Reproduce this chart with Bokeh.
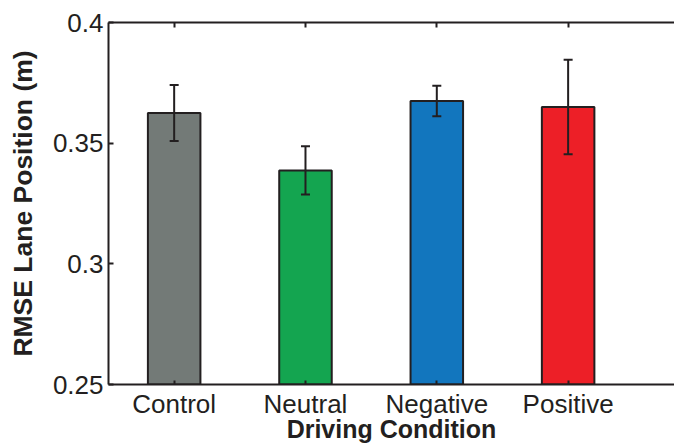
from bokeh.plotting import figure
from bokeh.models import (ColumnDataSource, FixedTicker, LinearAxis, Range1d,
                          Whisker, TeeHead)
from bokeh.embed import file_html
from bokeh.resources import INLINE

# Mean RMSE of lane position per driving condition, with standard error
conditions = ["Control", "Neutral", "Negative", "Positive"]
rmse = [0.3625, 0.3387, 0.3675, 0.3650]
sem = [0.0116, 0.0100, 0.0063, 0.0196]
colors = ["#737a77", "#14a550", "#1276be", "#ed1f27"]
y_ticks = [0.25, 0.3, 0.35, 0.4]
y_tick_labels = ["0.25", "0.3", "0.35", "0.4"]

xs = list(range(1, len(conditions) + 1))
src = ColumnDataSource(dict(
    x=xs, top=rmse, color=colors,
    upper=[m + e for m, e in zip(rmse, sem)],
    lower=[m - e for m, e in zip(rmse, sem)],
))

INK = "#231f20"
FONT = "Liberation Sans"

p = figure(width=674, height=446, output_backend="svg", toolbar_location=None,
           x_range=Range1d(0.5, 4.81), y_range=Range1d(0.25, 0.4),
           min_border_left=108, min_border_right=0, min_border_top=22,
           min_border_bottom=62, x_axis_location="below")
p.outline_line_color = None
p.grid.visible = False
p.background_fill_color = "white"
p.border_fill_color = "white"

p.vbar(x="x", top="top", bottom=0.25, width=0.4, source=src,
       fill_color="color", line_color=INK, line_width=2)

whisk = Whisker(base="x", upper="upper", lower="lower", source=src,
                line_color=INK, line_width=2, level="overlay",
                upper_head=TeeHead(size=9, line_color=INK, line_width=2),
                lower_head=TeeHead(size=9, line_color=INK, line_width=2))
p.add_layout(whisk)

# Bottom axis with condition names
xa = p.xaxis[0]
xa.ticker = FixedTicker(ticks=xs)
xa.major_label_overrides = {i: c for i, c in zip(xs, conditions)}
xa.axis_label = "Driving Condition"
xa.major_label_text_font = FONT
xa.major_label_text_font_size = "26px"
xa.major_label_text_color = INK
xa.axis_label_text_font = FONT
xa.axis_label_text_font_size = "25px"
xa.axis_label_text_font_style = "bold"
xa.axis_label_text_color = INK
xa.axis_label_standoff = -7
xa.major_label_standoff = 4
xa.axis_line_width = 2
xa.axis_line_color = INK
xa.major_tick_in = 4
xa.major_tick_out = 0
xa.major_tick_line_width = 2
xa.major_tick_line_color = INK
xa.minor_tick_line_color = None

# Top border with inward ticks and no labels
ta = LinearAxis(ticker=FixedTicker(ticks=xs), major_label_text_color=None,
                major_label_text_font_size="1px",
                major_label_standoff=0, axis_line_width=2, axis_line_color=INK,
                major_tick_in=5, major_tick_out=0, major_tick_line_width=2,
                major_tick_line_color=INK, minor_tick_line_color=None)
p.add_layout(ta, "above")

ya = p.yaxis[0]
ya.ticker = FixedTicker(ticks=y_ticks)
ya.major_label_overrides = {t: l for t, l in zip(y_ticks, y_tick_labels)}
ya.axis_label = "RMSE Lane Position (m)"
ya.major_label_text_font = FONT
ya.major_label_text_font_size = "26px"
ya.major_label_text_color = INK
ya.axis_label_text_font = FONT
ya.axis_label_text_font_size = "26.5px"
ya.axis_label_text_font_style = "bold"
ya.axis_label_text_color = INK
ya.axis_label_standoff = 12
ya.major_label_standoff = 5
ya.axis_line_width = 2
ya.axis_line_color = INK
ya.major_tick_in = 5
ya.major_tick_out = 0
ya.major_tick_line_width = 2
ya.major_tick_line_color = INK
ya.minor_tick_line_color = None

open("out.html", "w").write(file_html(p, INLINE))
